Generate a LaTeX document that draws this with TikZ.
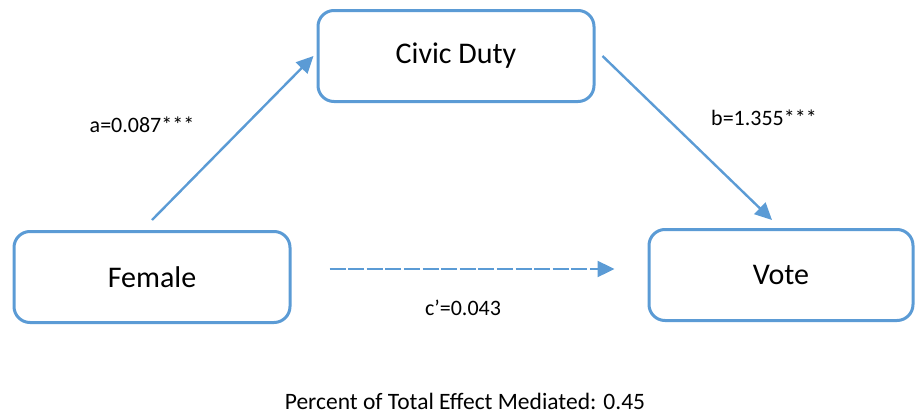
\documentclass[tikz,border=0pt]{standalone}
\usepackage{fontspec}
\setmainfont{Carlito}
\usepackage{tikz}
\usetikzlibrary{arrows.meta}
\definecolor{boxblue}{HTML}{5B9BD5}

\tikzset{
	varbox/.style={draw=boxblue, line width=1.5pt, rounded corners=8pt, minimum width=138pt, minimum height=45.5pt, font=\fontsize{15}{18}\selectfont},
	path/.style={draw=boxblue, line width=1.2pt, -{Triangle[length=8.5pt,width=8pt]}},
	coef/.style={font=\fontsize{11}{13}\selectfont}
}

\begin{document}
\begin{tikzpicture}[x=0.5pt, y=-0.5pt]
	  \useasboundingbox (0,0) rectangle (917,418);
	  \node [varbox] (civic) at (456,56) {Civic Duty};
	  \node [varbox] (female) at (152,277) {Female};
	  \node [varbox, minimum width=132pt] (vote) at (781,275) {Vote};
	  \coordinate (aStart) at ([yshift=5pt]female.north);
	  \coordinate (aEnd) at ([xshift=-1.5pt]civic.west);
	  \coordinate (bStart) at ([xshift=3.5pt]civic.east);
	  \coordinate (bEnd) at ([xshift=-4.5pt, yshift=4pt]vote.north);
	  \coordinate (cStart) at ([xshift=19pt, yshift=4pt]female.east);
	  \coordinate (cEnd) at ([xshift=-16.5pt, yshift=3pt]vote.west);
	  \draw [path] (aStart) -- (aEnd);
	  \draw [path] (bStart) -- (bEnd);
	  \draw [path, dash pattern=on 8pt off 1.3pt] (cStart) -- (cEnd);
	  \node [coef] (a) at (142,125) {a=0.087***};
	  \node [coef] (b) at (764,118) {b=1.355***};
	  \node [coef] (c) at (463,308) {c’=0.043};
	  \node [font=\fontsize{11.75}{14}\selectfont] (pm) at (465,401) {Percent of Total Effect Mediated: 0.45};
	 \end{tikzpicture}
\end{document}
